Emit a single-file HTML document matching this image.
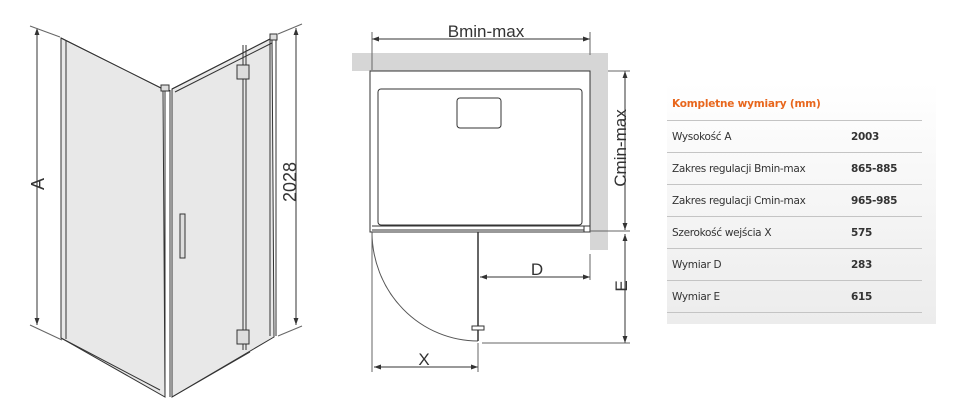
<!DOCTYPE html>
<html><head><meta charset="utf-8"><style>
body{margin:0;width:960px;height:412px;background:#fff;overflow:hidden;position:relative;font-family:"Liberation Sans",sans-serif}
#tbl{position:absolute;left:667px;top:83px;width:269px;height:241px;background:linear-gradient(#fff,#ececec)}
.r{position:absolute;left:0;width:255px;border-top:1px solid #c4c4c4;height:32px;font-family:"DejaVu Sans","Liberation Sans",sans-serif;font-size:10.5px;color:#333;letter-spacing:-0.3px}
.r span{position:absolute;top:10px}
.r b{position:absolute;left:184px;top:10px;color:#333}
</style></head><body>
<svg width="960" height="412" style="position:absolute;left:0;top:0" font-family="Liberation Sans" fill="none" stroke="#333" stroke-width="1">
<defs><marker id="a" viewBox="0 0 10 10" refX="10" refY="5" markerWidth="7" markerHeight="7" orient="auto-start-reverse"><path d="M0,1.5L10,5L0,8.5z" fill="#333" stroke="none"/></marker></defs>
<!-- iso view -->
<polygon points="61,38 163,89 165,397 61,338" fill="#e8e8e8"/>
<polygon points="172,89 272,38 274,337 172,397" fill="#e8e8e8"/>
<path d="M61,38 L163,89 M61,38 V338 M66,40 V339 M61,338 L160,390 M165,90 V397 M170,90 V397 M172,89 L272,38 M175,92 L272,43 M172,397 L250,352 M243,45 V350 M246,45 V350 M270,40 V336 M276,38 V336" />
<rect x="161" y="85" width="8" height="6" fill="#ddd"/>
<rect x="270" y="34" width="7" height="6" fill="#ddd"/>
<rect x="237" y="65" width="12" height="14" fill="#ddd"/><rect x="237" y="330" width="12" height="14" fill="#ddd"/>
<rect x="180" y="214" width="5" height="44" fill="#ddd"/>
<line x1="37" y1="28" x2="37" y2="325" marker-start="url(#a)" marker-end="url(#a)"/>
<line x1="30" y1="26" x2="60" y2="37" stroke="#666"/><line x1="30" y1="325" x2="62" y2="340" stroke="#666"/>
<line x1="296" y1="28" x2="296" y2="325" marker-start="url(#a)" marker-end="url(#a)"/>
<line x1="278" y1="34" x2="302" y2="24" stroke="#666"/><line x1="278" y1="336" x2="302" y2="326" stroke="#666"/>
<text x="44" y="184" transform="rotate(-90 44 184)" font-size="18" fill="#333" stroke="none" text-anchor="middle">A</text>
<text x="296" y="182" transform="rotate(-90 296 182)" font-size="18" fill="#333" stroke="none" text-anchor="middle">2028</text>
<!-- plan -->
<rect x="352" y="53" width="256" height="18" fill="#d6d6d6" stroke="none"/>
<rect x="590" y="53" width="18" height="197" fill="#d6d6d6" stroke="none"/>
<rect x="370" y="71" width="220" height="161" fill="#fff"/>
<rect x="378" y="89" width="204" height="136" rx="3"/>
<rect x="457" y="98" width="44" height="30" rx="3"/>
<line x1="372" y1="226" x2="590" y2="226"/>
<line x1="372" y1="230" x2="590" y2="230"/>
<rect x="584" y="226" width="6" height="6" fill="#fff"/>
<path d="M372,232 A106,109 0 0 0 478,341" stroke="#555"/>
<line x1="478" y1="232" x2="478" y2="341" stroke-width="1.5"/>
<rect x="472" y="326" width="12" height="4" fill="#fff"/>
<line x1="372" y1="39" x2="590" y2="39" marker-start="url(#a)" marker-end="url(#a)"/>
<line x1="372" y1="32" x2="372" y2="70" stroke="#666"/><line x1="590" y1="32" x2="590" y2="55" stroke="#666"/>
<text x="486" y="37" font-size="17" fill="#333" stroke="none" text-anchor="middle">Bmin-max</text>
<line x1="625" y1="71" x2="625" y2="230" marker-start="url(#a)" marker-end="url(#a)"/>
<line x1="608" y1="71" x2="630" y2="71" stroke="#666"/><line x1="590" y1="231" x2="630" y2="231" stroke="#666"/>
<text x="626" y="148" transform="rotate(-90 626 148)" font-size="17" fill="#333" stroke="none" text-anchor="middle">Cmin-max</text>
<line x1="625" y1="234" x2="625" y2="343" marker-start="url(#a)" marker-end="url(#a)"/>
<line x1="482" y1="343" x2="630" y2="343" stroke="#666"/>
<text x="627" y="286" transform="rotate(-90 627 286)" font-size="17" fill="#333" stroke="none" text-anchor="middle">E</text>
<line x1="480" y1="277" x2="590" y2="277" marker-start="url(#a)" marker-end="url(#a)"/>
<line x1="590" y1="254" x2="590" y2="280" stroke="#666"/>
<text x="537" y="275" font-size="17" fill="#333" stroke="none" text-anchor="middle">D</text>
<line x1="374" y1="367" x2="478" y2="367" marker-start="url(#a)" marker-end="url(#a)"/>
<line x1="372" y1="234" x2="372" y2="372" stroke="#666"/><line x1="478" y1="343" x2="478" y2="372" stroke="#666"/>
<text x="424" y="365" font-size="17" fill="#333" stroke="none" text-anchor="middle">X</text>
</svg>
<div id="tbl">
<div style="position:absolute;left:5px;top:15px;font-family:'DejaVu Sans',sans-serif;font-weight:bold;font-size:10.5px;color:#e8661c;letter-spacing:-0.2px">Kompletne wymiary (mm)</div>
<div class="r" style="top:37px"><span style="left:5px">Wysokość A</span><b>2003</b></div>
<div class="r" style="top:69px"><span style="left:5px">Zakres regulacji Bmin-max</span><b>865-885</b></div>
<div class="r" style="top:101px"><span style="left:5px">Zakres regulacji Cmin-max</span><b>965-985</b></div>
<div class="r" style="top:133px"><span style="left:5px">Szerokość wejścia X</span><b>575</b></div>
<div class="r" style="top:165px"><span style="left:5px">Wymiar D</span><b>283</b></div>
<div class="r" style="top:197px"><span style="left:5px">Wymiar E</span><b>615</b></div>
<div class="r" style="top:229px;height:0"></div>
</div>
</body></html>
